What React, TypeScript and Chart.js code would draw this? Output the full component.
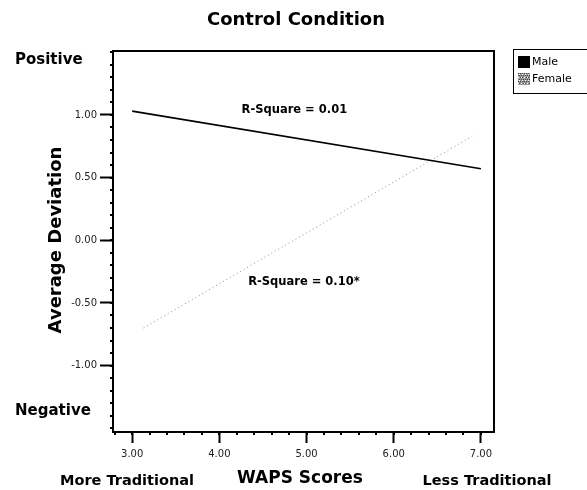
import React, { useEffect, useRef } from "react";
import { Chart, registerables } from "chart.js";

Chart.register(...registerables);

// Data
const maleX = [3.0, 7.0];
const maleY = [1.03, 0.57];
const femaleX = [3.13, 6.9];
const femaleY = [-0.7, 0.83];
const xMajorTicks = [3, 4, 5, 6, 7];
const yMajorTicks = [-1, -0.5, 0, 0.5, 1];
const legendLabels = ["Male", "Female"];
const annotations = [
  { text: "R-Square = 0.01", x: 4.86, y: 1.04 },
  { text: "R-Square = 0.10*", x: 4.97, y: -0.33 },
];
const titleText = "Control Condition";
const yTitle = "Average Deviation";
const xTitle = "WAPS Scores";
const topLabel = "Positive";
const bottomLabel = "Negative";
const leftLabel = "More Traditional";
const rightLabel = "Less Traditional";

const FONT = "'DejaVu Sans', sans-serif";

const decorPlugin = {
  id: "decor",
  afterDraw(chart: any) {
    const { ctx, chartArea } = chart;
    const xs = chart.scales.x;
    const ys = chart.scales.y;
    ctx.save();
    // frame top & right
    ctx.strokeStyle = "#000";
    ctx.lineWidth = 2;
    ctx.beginPath();
    ctx.moveTo(chartArea.left, chartArea.top);
    ctx.lineTo(chartArea.right, chartArea.top);
    ctx.lineTo(chartArea.right, chartArea.bottom);
    ctx.stroke();

    // minor ticks
    ctx.fillStyle = "#000";
    for (let i = -15; i <= 15; i++) {
      const v = i / 10;
      const py = ys.getPixelForValue(v);
      if (py < chartArea.top || py > chartArea.bottom) continue;
      ctx.fillRect(chartArea.left - 3, Math.round(py) - 1, 3, 2);
    }
    for (let i = 14; i <= 36; i++) {
      const v = i / 5;
      const px = xs.getPixelForValue(v);
      if (px < chartArea.left || px > chartArea.right) continue;
      ctx.fillRect(Math.round(px) - 1, chartArea.bottom, 2, 3);
    }

    // annotations
    ctx.fillStyle = "#000";
    ctx.textAlign = "center";
    ctx.textBaseline = "middle";
    ctx.font = `bold 11.5px ${FONT}`;
    annotations.forEach((a) => {
      ctx.fillText(a.text, xs.getPixelForValue(a.x), ys.getPixelForValue(a.y));
    });

    // title
    ctx.font = `bold 18px ${FONT}`;
    ctx.fillText(titleText, 296, 20);

    // side labels
    ctx.textAlign = "left";
    ctx.font = `bold 15px ${FONT}`;
    ctx.fillText(topLabel, 15, 60);
    ctx.fillText(bottomLabel, 15, 411);

    // bottom labels
    ctx.textAlign = "center";
    ctx.font = `bold 14.5px ${FONT}`;
    ctx.fillText(leftLabel, 127, 481);
    ctx.fillText(rightLabel, 487, 481);
    ctx.font = `bold 17px ${FONT}`;
    ctx.fillText(xTitle, 300, 479);

    // y title
    ctx.save();
    ctx.translate(56, 240);
    ctx.rotate(-Math.PI / 2);
    ctx.font = `bold 18px ${FONT}`;
    ctx.fillText(yTitle, 0, 0);
    ctx.restore();

    // legend
    ctx.strokeStyle = "#000";
    ctx.lineWidth = 1;
    ctx.strokeRect(513.5, 49.5, 90, 44);
    ctx.fillStyle = "#000";
    ctx.fillRect(518, 56, 12, 12);
    // female swatch: textured gray
    ctx.fillStyle = "#9a9a9a";
    ctx.fillRect(518, 73, 12, 12);
    ctx.fillStyle = "#444";
    for (let r = 0; r < 12; r += 2) {
      for (let c = (r / 2) % 2; c < 12; c += 2) {
        ctx.fillRect(518 + c, 73 + r, 1, 1);
      }
    }
    ctx.fillStyle = "#fff";
    for (let r = 1; r < 12; r += 3) {
      for (let c = r % 2; c < 12; c += 3) {
        ctx.fillRect(518 + c, 73 + r, 1, 1);
      }
    }
    ctx.fillStyle = "#000";
    ctx.textAlign = "left";
    ctx.font = `11px ${FONT}`;
    ctx.fillText(legendLabels[0], 532, 62);
    ctx.fillText(legendLabels[1], 532, 79);
    ctx.restore();
  },
};

export default function App() {
  const ref = useRef<HTMLCanvasElement | null>(null);
  useEffect(() => {
    if (!ref.current) return;
    const chart = new Chart(ref.current, {
      type: "scatter",
      data: {
        datasets: [
          {
            label: legendLabels[0],
            data: maleX.map((x, i) => ({ x, y: maleY[i] })),
            showLine: true,
            borderColor: "#000",
            borderWidth: 1.6,
            pointRadius: 0,
          },
          {
            label: legendLabels[1],
            data: femaleX.map((x, i) => ({ x, y: femaleY[i] })),
            showLine: true,
            borderColor: "#8a8a8a",
            borderWidth: 1,
            borderDash: [1, 3],
            pointRadius: 0,
          },
        ],
      },
      plugins: [decorPlugin],
      options: {
        animation: false,
        responsive: false,
        events: [],
        layout: { padding: { top: 51, right: 93, left: 0, bottom: 0 } },
        plugins: {
          legend: { display: false },
          tooltip: { enabled: false },
          title: { display: false },
        },
        scales: {
          x: {
            type: "linear",
            min: 2.78,
            max: 7.15,
            afterFit: (s: any) => {
              s.height = 58;
            },
            afterBuildTicks: (s: any) => {
              s.ticks = xMajorTicks.map((v) => ({ value: v }));
            },
            ticks: {
              color: "#222",
              font: { family: FONT, size: 10 },
              padding: 5,
              maxRotation: 0,
              callback: (v: any) => Number(v).toFixed(2),
            },
            grid: {
              drawOnChartArea: false,
              drawTicks: true,
              tickLength: 11,
              tickWidth: 2,
              tickColor: "#000",
            },
            border: { display: true, color: "#000", width: 2 },
          },
          y: {
            type: "linear",
            min: -1.53,
            max: 1.51,
            afterFit: (s: any) => {
              s.width = 113;
            },
            afterBuildTicks: (s: any) => {
              s.ticks = yMajorTicks.map((v) => ({ value: v }));
            },
            ticks: {
              color: "#222",
              font: { family: FONT, size: 10 },
              padding: 3,
              callback: (v: any) => Number(v).toFixed(2),
            },
            grid: {
              drawOnChartArea: false,
              drawTicks: true,
              tickLength: 13,
              tickWidth: 2,
              tickColor: "#000",
            },
            border: { display: true, color: "#000", width: 2 },
          },
        },
      },
    });
    return () => chart.destroy();
  }, []);
  return (
    <div style={{ position: "fixed", left: 0, top: 0, width: 587, height: 490, background: "#fff" }}>
      <canvas ref={ref} width={587} height={490} style={{ width: 587, height: 490 }} />
    </div>
  );
}
